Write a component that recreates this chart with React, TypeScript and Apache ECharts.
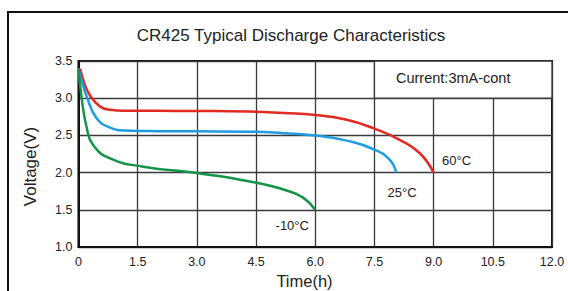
import React, { useEffect, useRef } from "react";
import * as echarts from "echarts";

const titleText = "CR425 Typical Discharge Characteristics";
const xAxisName = "Time(h)";
const yAxisName = "Voltage(V)";
const noteText = "Current:3mA-cont";

const xTicks = [0, 1.5, 3.0, 4.5, 6.0, 7.5, 9.0, 10.5, 12.0];
const yTicks = [1.0, 1.5, 2.0, 2.5, 3.0, 3.5];

const red60: [number, number][] = [
  [0.04, 3.4], [0.15, 3.2], [0.29, 3.04], [0.54, 2.89], [0.8, 2.845], [1.2, 2.832],
  [2.0, 2.83], [3.0, 2.828], [4.3, 2.82], [5.2, 2.8], [6.0, 2.775], [6.8, 2.71],
  [7.5, 2.59], [8.14, 2.44], [8.65, 2.26], [9.0, 2.0],
];
const blue25: [number, number][] = [
  [0.0, 3.4], [0.1, 3.2], [0.21, 3.02], [0.46, 2.73], [0.8, 2.605], [1.2, 2.565],
  [2.0, 2.557], [3.0, 2.555], [4.3, 2.55], [5.2, 2.53], [6.0, 2.5], [6.8, 2.43],
  [7.5, 2.31], [7.89, 2.17], [8.05, 2.0],
];
const green10: [number, number][] = [
  [0.0, 3.4], [0.08, 3.0], [0.21, 2.6], [0.37, 2.37], [0.8, 2.19], [1.64, 2.08],
  [2.9, 2.0], [3.6, 1.95], [4.34, 1.88], [4.8, 1.83], [5.27, 1.76], [5.7, 1.66], [6.0, 1.5],
];

const seriesNames = ["60°C", "25°C", "-10°C"];
const seriesData = [red60, blue25, green10];
const seriesColors = ["#e02a22", "#1f9be0", "#139447"];
const labelOffsets: [number, number][] = [[23, -12], [6, 20], [-23, 16]];

const FONT = "'Liberation Sans', Arial, sans-serif";

export default function App() {
  const ref = useRef<HTMLDivElement>(null);
  useEffect(() => {
    if (!ref.current) return;
    const chart = echarts.init(ref.current, undefined, { renderer: "svg" });
    const series: any[] = seriesData.map((d, i) => {
      const last = d[d.length - 1];
      const s: any = {
        name: seriesNames[i],
        type: "line",
        data: d,
        smooth: 0.5,
        showSymbol: false,
        lineStyle: { color: seriesColors[i], width: 2.5 },
        itemStyle: { color: seriesColors[i] },
        markPoint: {
          symbol: "circle",
          symbolSize: 0,
          silent: true,
          data: [{ coord: last, value: seriesNames[i] }],
          label: {
            show: true,
            position: "inside",
            offset: labelOffsets[i],
            formatter: seriesNames[i],
            color: "#222",
            fontSize: 13,
            fontFamily: FONT,
          },
        },
      };
      if (i === 0) {
        s.markArea = {
          silent: true,
          itemStyle: { color: "#ffffff", borderColor: "#333", borderWidth: 1.3 },
          label: {
            show: true,
            position: "inside",
            offset: [-10, -2],
            color: "#222",
            fontSize: 14.5,
            fontFamily: FONT,
          },
          data: [[{ coord: [xTicks[5], yTicks[4]], name: noteText }, { coord: [xTicks[8], yTicks[5]] }]],
        };
      }
      return s;
    });
    chart.setOption({
      animation: false,
      backgroundColor: "#ffffff",
      grid: {
        left: 78.5, right: 16, top: 61, bottom: 44,
        show: true, borderColor: "#111", borderWidth: 2, backgroundColor: "transparent",
      },
      xAxis: {
        type: "value",
        min: xTicks[0], max: xTicks[xTicks.length - 1], interval: 1.5,
        axisLine: { show: true, lineStyle: { color: "#111", width: 2 } },
        axisTick: { show: false },
        splitLine: { show: true, lineStyle: { color: "#3a3a3a", width: 1.3 } },
        axisLabel: {
          margin: 8, color: "#222", fontSize: 12.5, fontFamily: FONT,
          formatter: (v: number) => (v === 0 ? "0" : v.toFixed(1)),
        },
      },
      yAxis: {
        type: "value",
        min: yTicks[0], max: yTicks[yTicks.length - 1], interval: 0.5,
        axisLine: { show: true, lineStyle: { color: "#111", width: 2 } },
        axisTick: { show: false },
        splitLine: { show: true, lineStyle: { color: "#3a3a3a", width: 1.3 } },
        axisLabel: {
          margin: 6, color: "#222", fontSize: 12.5, fontFamily: FONT,
          formatter: (v: number) => v.toFixed(1),
        },
      },
      graphic: [
        {
          type: "rect", silent: true, z: 100,
          shape: { x: 8, y: 12, width: 700, height: 400 },
          style: { fill: "none", stroke: "#111", lineWidth: 2 },
        },
        {
          type: "text", x: 291, y: 35, silent: true,
          style: { text: titleText, fill: "#222", font: `17px ${FONT}`, textAlign: "center", textVerticalAlign: "middle" },
        },
        {
          type: "text", x: 304.5, y: 281, silent: true,
          style: { text: xAxisName, fill: "#222", font: `16.5px ${FONT}`, textAlign: "center", textVerticalAlign: "middle" },
        },
        {
          type: "text", x: 30, y: 166.5, rotation: Math.PI / 2, silent: true,
          style: { text: yAxisName, fill: "#222", font: `17px ${FONT}`, textAlign: "center", textVerticalAlign: "middle" },
        },
      ],
      series,
    });
    return () => chart.dispose();
  }, []);
  return <div ref={ref} style={{ position: "fixed", left: 0, top: 0, width: 568, height: 291 }} />;
}
